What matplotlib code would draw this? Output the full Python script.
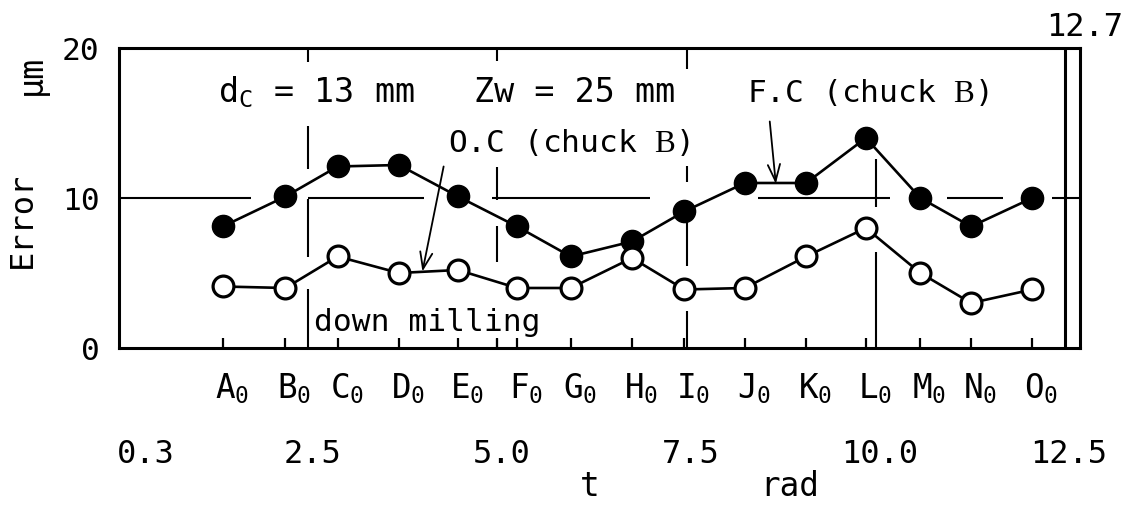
import matplotlib
matplotlib.use("Agg")
import matplotlib.pyplot as plt
from matplotlib import transforms

# ---- data -------------------------------------------------------------
categories = ["A", "B", "C", "D", "E", "F", "G", "H", "I", "J", "K", "L", "M", "N", "O"]
# tool position on the t axis (rad)
cat_t = [1.37, 2.20, 2.89, 3.70, 4.48, 5.26, 5.97, 6.78, 7.47, 8.27, 9.08, 9.87, 10.59, 11.26, 12.07]
# error (um)
fc_error = [8.1, 10.1, 12.1, 12.2, 10.1, 8.1, 6.1, 7.1, 9.1, 11.0, 11.0, 14.0, 10.0, 8.1, 10.0]
oc_error = [4.1, 4.0, 6.1, 5.0, 5.2, 4.0, 4.0, 6.0, 3.9, 4.0, 6.1, 8.0, 5.0, 3.0, 3.9]
t_ticks = [0.3, 2.5, 5.0, 7.5, 10.0, 12.5]
t_tick_labels = ["0.3", "2.5", "5.0", "7.5", "10.0", "12.5"]
y_ticks = [0, 10, 20]
t_max = 12.7

# ---- style ------------------------------------------------------------
plt.rcParams["font.family"] = ["DejaVu Sans Mono", "DejaVu Sans"]
plt.rcParams["font.size"] = 22.5
plt.rcParams["mathtext.fontset"] = "custom"
plt.rcParams["mathtext.rm"] = "DejaVu Sans Mono"
plt.rcParams["mathtext.it"] = "DejaVu Sans Mono"
plt.rcParams["mathtext.sf"] = "Liberation Serif"
plt.rcParams["lines.scale_dashes"] = False

PX = 72.0 / 100.0  # points per pixel at 100 dpi


def px_dashes(seq):
    return [v * PX for v in seq]


fig = plt.figure(figsize=(11.28, 5.10), dpi=100)
ax = fig.add_axes([0.1055, 0.3157, 0.85195, 0.58824])
ax.set_xlim(0, t_max)
ax.set_ylim(0, 20)

for sp in ax.spines.values():
    sp.set_linewidth(2.2)

# broken reference lines
grid_kw = dict(color="black", lw=1.5, zorder=1, dash_capstyle="butt")
ax.axhline(10, dashes=px_dashes([132, 57, 116, 68, 158, 108, 132, 57, 56, 49, 28, 40]), **grid_kw)
ax.axvline(2.5, dashes=px_dashes([59, 32, 58, 30, 43, 64, 14, 30]), **grid_kw)
ax.axvline(5.0, dashes=px_dashes([9, 77, 36, 26, 33, 106, 13, 30]), **grid_kw)
ax.axvline(7.5, dashes=px_dashes([37, 45, 47, 37, 16, 97, 21, 30]), **grid_kw)
ax.axvline(10.0, dashes=px_dashes([96, 45, 48, 111]), **grid_kw)
ax.axvline(12.5, color="black", lw=2.2, zorder=1)

# series
ax.plot(cat_t, fc_error, "-o", color="black", lw=1.9, ms=16, mfc="black",
        mec="black", zorder=3)
ax.plot(cat_t, oc_error, "-o", color="black", lw=1.9, ms=15, mfc="white",
        mec="black", mew=2.3, zorder=3)

# axes ticks
ax.set_yticks(y_ticks)
ax.set_yticklabels([str(v) for v in y_ticks])
ax.tick_params(axis="y", length=0, pad=14)
ax.set_xticks(cat_t)
ax.set_xticklabels([])
ax.set_xticks([5.0], minor=True)
ax.tick_params(axis="x", which="both", direction="in", length=7, width=1.6)

# category labels with subscript zero
lab_tr = transforms.offset_copy(ax.get_xaxis_transform(), fig=fig, x=9 * PX, y=-22 * PX, units="points")
for name, t in zip(categories, cat_t):
    ax.text(t, 0, name + r"$_\mathrm{0}$", transform=lab_tr, ha="center", va="top", fontsize=23.5)

# t scale labels
t_tr = transforms.offset_copy(ax.get_xaxis_transform(), fig=fig, x=4 * PX, y=-106 * PX, units="points")
for t, lab in zip(t_ticks, t_tick_labels):
    ax.text(t, 0, lab, transform=t_tr, ha="center", va="center", fontsize=23)

fig.text(590 / 1128, 1 - 487 / 510, "t", ha="center", va="center", fontsize=23.5)
fig.text(790 / 1128, 1 - 487 / 510, "rad", ha="center", va="center", fontsize=23.5)
fig.text(1085 / 1128, 1 - 27 / 510, "12.7", ha="center", va="center", fontsize=23)

# y axis title
fig.text(22 / 1128, 1 - 220 / 510, "Error", rotation=90, ha="center", va="center", fontsize=23)
fig.text(31 / 1128, 1 - 75 / 510, "μm", rotation=90, ha="center", va="center", fontsize=24)

# annotations
ax.text(0.103, 0.823, r"d$_\mathrm{C}$ = 13 mm", transform=ax.transAxes, ha="left", va="baseline", fontsize=24)
ax.text(0.369, 0.823, "Zw = 25 mm", transform=ax.transAxes, ha="left", va="baseline", fontsize=24)
ax.text(0.654, 0.823, r"F.C (chuck $\mathsf{B}$)", transform=ax.transAxes, ha="left", va="baseline")
ax.text(0.342, 0.657, r"O.C (chuck $\mathsf{B}$)", transform=ax.transAxes, ha="left", va="baseline")
ax.text(0.203, 0.060, "down milling", transform=ax.transAxes, ha="left", va="baseline")

arrow_kw = dict(arrowstyle="->,head_length=0.6,head_width=0.22", lw=1.3, color="black",
                shrinkA=0, shrinkB=0, mutation_scale=20)
ax.annotate("", xy=(4.01, 5.1), xytext=(4.29, 12.1), arrowprops=arrow_kw, zorder=4)
ax.annotate("", xy=(8.68, 10.95), xytext=(8.60, 15.1), arrowprops=arrow_kw, zorder=4)

fig.savefig("out.png", dpi=100)
